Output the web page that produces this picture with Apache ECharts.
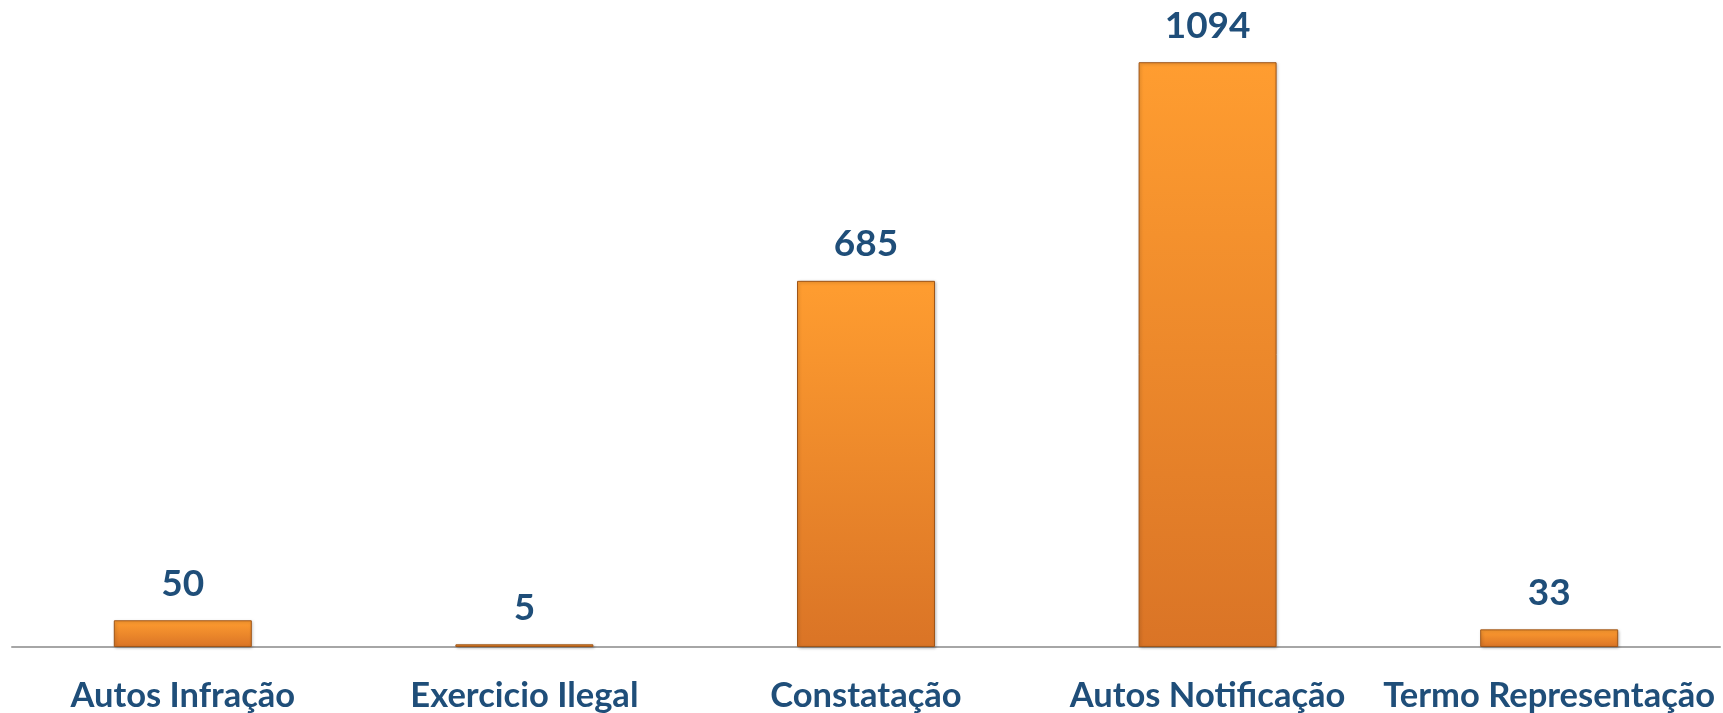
<!DOCTYPE html>
<html>
<head>
<meta charset="utf-8">
<script src="https://cdn.jsdelivr.net/npm/echarts@6/dist/echarts.min.js"></script>
<style>
  html, body { margin:0; padding:0; background:#fff; }
  #chart { width:1723px; height:713px; }
</style>
</head>
<body>
<div id="chart"></div>
<script>
// ====== data ======
const categories = ['Autos Infração', 'Exercicio Ilegal', 'Constatação', 'Autos Notificação', 'Termo Representação'];
const values     = [50, 5, 685, 1094, 33];

const BLUE = '#1F4E79';

const chart = echarts.init(document.getElementById('chart'));

chart.setOption({
  animation: false,
  grid: { left: 12, right: 3, top: 59, bottom: 66, containLabel: false },
  xAxis: {
    type: 'category',
    data: categories,
    axisLine: { lineStyle: { color: '#A6A6A6', width: 2 } },
    axisTick: { show: false },
    axisLabel: {
      color: BLUE, fontFamily: 'Lato', fontWeight: 'bold', fontSize: 34.5,
      margin: 31, interval: 0
    }
  },
  yAxis: {
    type: 'value', min: 0, max: 1100,
    show: false, splitLine: { show: false }
  },
  series: [{
    type: 'bar',
    data: values,
    barWidth: 138,
    itemStyle: {
      color: new echarts.graphic.LinearGradient(0, 0, 0, 1, [
        { offset: 0, color: '#FF9D30' },
        { offset: 1, color: '#DA7426' }
      ]),
      borderColor: '#9E5518',
      borderWidth: 1,
      shadowColor: 'rgba(0,0,0,0.25)',
      shadowBlur: 3,
      shadowOffsetX: 1,
      shadowOffsetY: 1
    },
    label: {
      show: true, position: 'top', distance: 18,
      color: BLUE, fontFamily: 'Lato', fontWeight: 'bold', fontSize: 37
    }
  }]
});
</script>
</body>
</html>
